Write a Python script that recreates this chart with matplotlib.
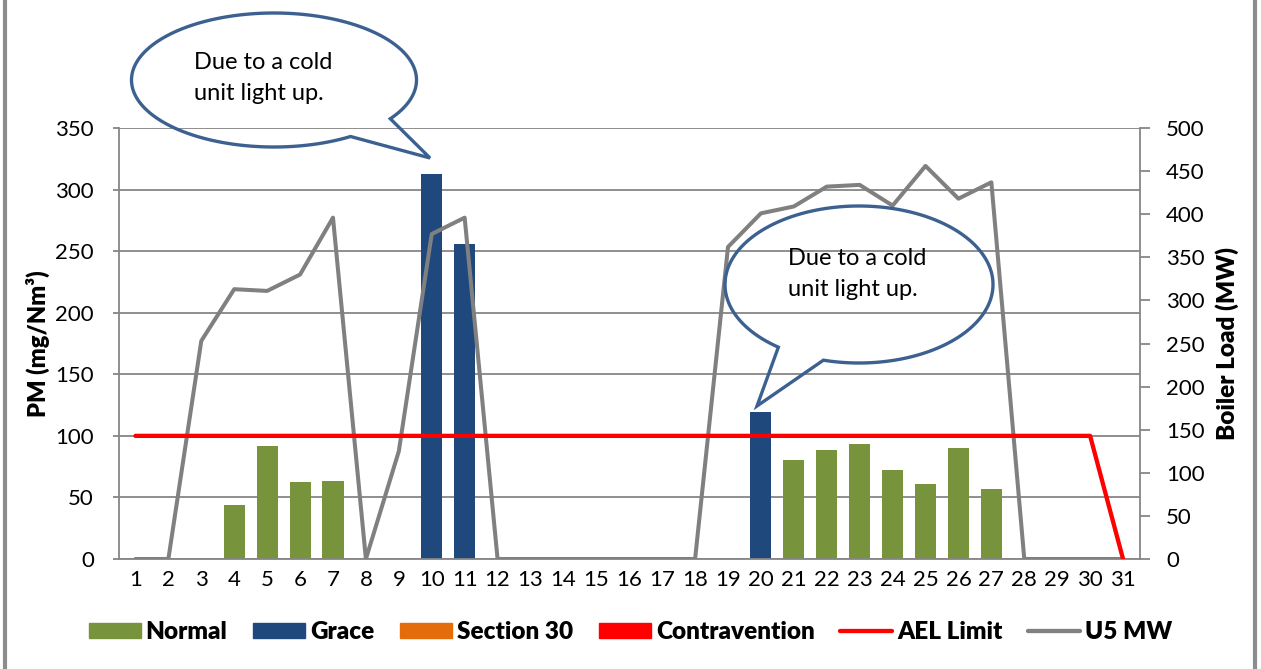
import matplotlib
matplotlib.use("Agg")
import matplotlib.pyplot as plt
import numpy as np
from matplotlib.patches import Patch, PathPatch
from matplotlib.lines import Line2D
from matplotlib.path import Path

plt.rcParams['font.family'] = ['Lato', 'DejaVu Sans']

# Data: days of the month
days = list(range(1, 32))
normal = [0, 0, 0, 44, 92, 62.5, 63.5, 0, 0, 0, 0, 0, 0, 0, 0, 0,
          0, 0, 0, 0, 80.5, 88.5, 93.5, 72.5, 61, 90.5, 57, 0, 0, 0, 0]
grace = [0, 0, 0, 0, 0, 0, 0, 0, 0, 312.5, 255.5, 0, 0, 0, 0, 0,
         0, 0, 0, 119, 0, 0, 0, 0, 0, 0, 0, 0, 0, 0, 0]
section30 = [0] * 31
contravention = [0] * 31
ael_limit = [100] * 30 + [0]
u5_mw = [0, 0, 253, 313, 311, 330, 396, 0, 125, 377, 396, 0, 0, 0, 0, 0,
         0, 0, 362, 401, 409, 432, 434, 410, 456, 418, 437, 0, 0, 0, 0]

C_NORMAL = '#77933C'
C_GRACE = '#1F497D'
C_SEC30 = '#E46C0A'
C_CONTRA = '#FF0000'
C_AEL = '#FF0000'
C_U5 = '#808080'
C_GRID = '#868686'
C_BUBBLE = '#3C6191'

W, H = 1261, 669
fig = plt.figure(figsize=(W / 100, H / 100), dpi=100)
ax = fig.add_axes([119 / W, 1 - 559 / H, (1139.5 - 119) / W, (559 - 128) / H])

# stacked bars on the PM axis
bottom = np.zeros(31)
for vals, col in [(normal, C_NORMAL), (grace, C_GRACE),
                  (section30, C_SEC30), (contravention, C_CONTRA)]:
    ax.bar(days, vals, width=0.64, bottom=bottom, color=col, linewidth=0, zorder=2)
    bottom += np.array(vals)

ax.set_xlim(0.5, 31.5)
ax.set_ylim(0, 350)
ax.set_yticks(range(0, 351, 50))
ax.set_xticks(days)
ax.yaxis.grid(True, color=C_GRID, linewidth=1.3)
ax.set_axisbelow(True)
for s in ['top', 'right']:
    ax.spines[s].set_visible(False)
for s in ['left', 'bottom']:
    ax.spines[s].set_color(C_GRID)
    ax.spines[s].set_linewidth(1.3)
ax.tick_params(axis='y', length=4, color=C_GRID, width=1.3, pad=14, labelsize=16)
ax.tick_params(axis='x', length=0, pad=8, labelsize=16)
ax.set_ylabel('PM (mg/Nm³)', fontsize=17, fontweight='heavy', labelpad=4)

# boiler load on the right axis
ax2 = ax.twinx()
ax2.plot(days, u5_mw, color=C_U5, linewidth=2.9, solid_joinstyle='round',
         solid_capstyle='round', zorder=3)
ax2.set_ylim(0, 500)
ax2.set_yticks(range(0, 501, 50))
for s in ['top', 'left', 'bottom']:
    ax2.spines[s].set_visible(False)
ax2.spines['right'].set_color(C_GRID)
ax2.spines['right'].set_linewidth(1.3)
ax2.tick_params(axis='y', length=7, color=C_GRID, width=1.3, pad=12, labelsize=16)
ax2.set_ylabel('Boiler Load (MW)', fontsize=17.5, fontweight='heavy', labelpad=8)

# AEL limit on PM scale, drawn on top
ax3 = ax.twinx()
ax3.plot(days, ael_limit, color=C_AEL, linewidth=3.1, solid_capstyle='round')
ax3.set_ylim(0, 350)
ax3.axis('off')

# legend
handles = [Patch(color=C_NORMAL), Patch(color=C_GRACE), Patch(color=C_SEC30),
           Patch(color=C_CONTRA),
           Line2D([], [], color=C_AEL, linewidth=3.1, solid_capstyle='round'),
           Line2D([], [], color=C_U5, linewidth=3.1, solid_capstyle='round')]
labels = ['Normal', 'Grace', 'Section 30', 'Contravention', 'AEL Limit', 'U5 MW']
fig.legend(handles, labels, loc='center', bbox_to_anchor=(0.5, 1 - 632 / H),
           ncol=6, frameon=False, handlelength=2.15, handleheight=0.55,
           handletextpad=0.2, columnspacing=1.05,
           prop={'size': 17.5, 'weight': 'heavy'})

# overlay in pixel coordinates for the callouts and frame
ov = fig.add_axes([0, 0, 1, 1], facecolor='none')
ov.set_xlim(0, W)
ov.set_ylim(H, 0)
ov.axis('off')


def bubble(cx, cy, a, b, t0, t1, tip):
    th = np.radians(np.linspace(t0, t1 + 360, 200))
    pts = np.column_stack([cx + a * np.cos(th), cy + b * np.sin(th)])
    pts = np.vstack([pts, tip, pts[0]])
    codes = [Path.MOVETO] + [Path.LINETO] * (len(pts) - 2) + [Path.CLOSEPOLY]
    ov.add_patch(PathPatch(Path(pts, codes), facecolor='none',
                           edgecolor=C_BUBBLE, linewidth=2.4, joinstyle='miter'))


bubble(274, 80, 142.5, 67, 57.5, 35.3, (430, 158))
ov.text(194, 78, 'Due to a cold\nunit light up.', fontsize=17, va='center',
        ha='left', linespacing=1.55)
bubble(859, 284.5, 134, 78.5, 127, 105.4, (757, 406))
ov.text(788, 274, 'Due to a cold\nunit light up.', fontsize=17, va='center',
        ha='left', linespacing=1.55)

ov.plot([5, 5], [0, H], color='#8C8C8C', linewidth=3)
ov.plot([1255, 1255], [0, H], color='#8C8C8C', linewidth=3)

fig.savefig('out.png', dpi=100)
